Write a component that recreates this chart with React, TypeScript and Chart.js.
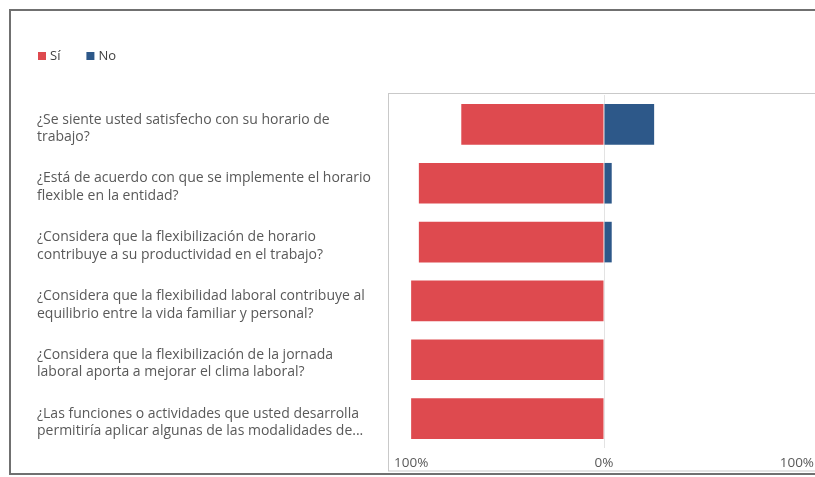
import React, { useEffect, useRef } from "react";
import { Chart, registerables } from "chart.js";

Chart.register(...registerables);

const categories: string[][] = [
  ["¿Se siente usted satisfecho con su horario de", "trabajo?"],
  ["¿Está de acuerdo con que se implemente el horario", "flexible en la entidad?"],
  ["¿Considera que la flexibilización de horario", "contribuye a su productividad en el trabajo?"],
  ["¿Considera que la flexibilidad laboral contribuye al", "equilibrio entre la vida familiar y personal?"],
  ["¿Considera que la flexibilización de la jornada", "laboral aporta a mejorar el clima laboral?"],
  ["¿Las funciones o actividades que usted desarrolla", "permitiría aplicar algunas de las modalidades de..."],
];

const seriesNames = ["Sí", "No"];
const siValues = [74, 96, 96, 100, 100, 100];
const noValues = [26, 4, 4, 0, 0, 0];
const axisTicks = [-100, 0, 100];

const RED = "#DE4A4F";
const BLUE = "#2D5889";
const FONT = "'Open Sans', sans-serif";

export default function App() {
  const ref = useRef<HTMLCanvasElement>(null);

  useEffect(() => {
    if (!ref.current) return;

    const decor = {
      id: "decor",
      beforeDraw(chart: any) {
        const ctx = chart.ctx;
        const a = chart.chartArea;
        ctx.save();
        ctx.fillStyle = "#ffffff";
        ctx.fillRect(0, 0, chart.width, chart.height);
        // outer frame
        ctx.strokeStyle = "#707070";
        ctx.lineWidth = 2;
        ctx.beginPath();
        ctx.moveTo(chart.width + 10, 10);
        ctx.lineTo(10, 10);
        ctx.lineTo(10, 474);
        ctx.lineTo(chart.width + 10, 474);
        ctx.stroke();
        // plot area box
        ctx.strokeStyle = "#c9c9c9";
        ctx.lineWidth = 1;
        const l = Math.round(a.left) + 0.5;
        const t = Math.round(a.top) - 1.5;
        ctx.strokeRect(l, t, chart.width, 471 - t);
        ctx.restore();
      },
      afterDraw(chart: any) {
        const ctx = chart.ctx;
        ctx.save();
        ctx.font = `13px ${FONT}`;
        ctx.textBaseline = "middle";
        ctx.textAlign = "left";
        let x = 38;
        const y = 56;
        chart.data.datasets.forEach((ds: any) => {
          ctx.fillStyle = ds.backgroundColor;
          ctx.fillRect(x, y - 4, 8, 8);
          ctx.fillStyle = "#404040";
          ctx.fillText(ds.label, x + 12, y);
          x += 12 + ctx.measureText(ds.label).width + 26;
        });
        ctx.restore();
      },
    };

    const chart = new Chart(ref.current, {
      type: "bar",
      data: {
        labels: categories,
        datasets: [
          {
            label: seriesNames[0],
            data: siValues.map((v) => -v),
            backgroundColor: RED,
            borderWidth: 0,
            barPercentage: 0.69,
            categoryPercentage: 1,
          },
          {
            label: seriesNames[1],
            data: noValues,
            backgroundColor: BLUE,
            borderWidth: 0,
            barPercentage: 0.69,
            categoryPercentage: 1,
          },
        ],
      },
      options: {
        indexAxis: "y",
        responsive: false,
        animation: false,
        devicePixelRatio: 1,
        layout: { padding: { left: 37, top: 95, right: 2, bottom: 3 } },
        plugins: {
          legend: { display: false },
          tooltip: { enabled: false },
          title: { display: false },
        },
        scales: {
          x: {
            stacked: true,
            min: -112,
            max: 112,
            afterBuildTicks: (scale: any) => {
              scale.ticks = axisTicks.map((v) => ({ value: v }));
            },
            afterFit: (scale: any) => {
              scale.height = 26;
            },
            grid: {
              drawTicks: false,
              color: (c: any) => (c.tick && c.tick.value === 0 ? "#e3e3e3" : "rgba(0,0,0,0)"),
            },
            border: { display: false },
            ticks: {
              padding: 7,
              color: "#595959",
              font: { family: FONT, size: 13.5 },
              maxRotation: 0,
              callback: (v: any) => Math.abs(Number(v)) + "%",
            },
          },
          y: {
            stacked: true,
            afterFit: (scale: any) => {
              scale.width = 351;
            },
            grid: { display: false, drawTicks: false },
            border: { display: false },
            ticks: {
              crossAlign: "far",
              labelOffset: 4,
              color: "#595959",
              font: { family: FONT, size: 14, lineHeight: 1.25 },
            },
          },
        },
      },
      plugins: [decor],
    });

    return () => chart.destroy();
  }, []);

  return (
    <div
      style={{
        position: "fixed",
        left: 0,
        top: 0,
        width: 815,
        height: 477,
        overflow: "hidden",
        background: "#fff",
      }}
    >
      <canvas ref={ref} width={822} height={477} style={{ display: "block", width: 822, height: 477 }} />
    </div>
  );
}
